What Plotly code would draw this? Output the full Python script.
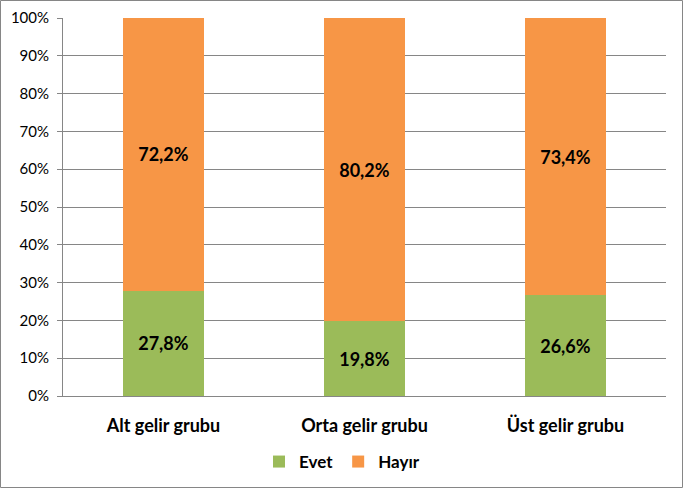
import plotly.graph_objects as go

categories = ["Alt gelir grubu", "Orta gelir grubu", "Üst gelir grubu"]
evet = [27.8, 19.8, 26.6]
hayir = [72.2, 80.2, 73.4]
tick_vals = [0, 10, 20, 30, 40, 50, 60, 70, 80, 90, 100]
tick_text = [f"{v}%" for v in tick_vals]

W, H = 684, 489
ml, mr, mt, mb = 63, 18, 18, 93
FONT = "Lato, Open Sans, sans-serif"

def fmt(v):
    return f"{v:.1f}".replace(".", ",") + "%"

fig = go.Figure()
fig.add_trace(go.Bar(
    x=categories, y=evet, name="Evet", marker=dict(color="#9BBB59", line=dict(width=0)),
    text=[fmt(v) for v in evet], textposition="inside", insidetextanchor="middle",
    textfont=dict(family=FONT, size=18, color="black", weight="bold"),
))
fig.add_trace(go.Bar(
    x=categories, y=hayir, name="Hayır", marker=dict(color="#F79646", line=dict(width=0)),
    text=[fmt(v) for v in hayir], textposition="inside", insidetextanchor="middle",
    textfont=dict(family=FONT, size=18, color="black", weight="bold"),
))

pw = W - ml - mr
ph = H - mt - mb
fig.add_shape(type="rect", xref="paper", yref="paper",
              x0=-(ml - 0.5) / pw, x1=1 + (mr - 1.5) / pw,
              y0=-(mb - 1.5) / ph, y1=1 + (mt - 0.5) / ph,
              line=dict(color="#868686", width=1), fillcolor="rgba(0,0,0,0)", layer="above")

fig.update_layout(
    width=W, height=H, margin=dict(l=ml, r=mr, t=mt, b=mb),
    barmode="stack", bargap=0.6,
    plot_bgcolor="white", paper_bgcolor="white",
    font=dict(family=FONT, size=14, color="black"),
    showlegend=True,
    legend=dict(orientation="h", xref="container", yref="container",
                x=0.5, xanchor="center", y=1 - 462 / H, yanchor="middle",
                font=dict(family=FONT, size=17, color="black", weight="bold"),
                itemwidth=30, traceorder="normal"),
    xaxis=dict(showline=True, linecolor="#868686", linewidth=1, ticks="",
               ticklabelstandoff=13, automargin=False,
               tickfont=dict(family=FONT, size=18, color="black", weight="bold"),
               fixedrange=True),
    yaxis=dict(range=[0, 100], tickvals=tick_vals, ticktext=tick_text, automargin=False,
               showgrid=True, gridcolor="#868686", gridwidth=1,
               showline=True, linecolor="#868686", linewidth=1,
               ticks="outside", ticklen=5, tickcolor="#868686", ticklabelstandoff=5,
               tickfont=dict(family=FONT, size=15, color="black"), zeroline=False),
)

fig.write_html("out.html")
